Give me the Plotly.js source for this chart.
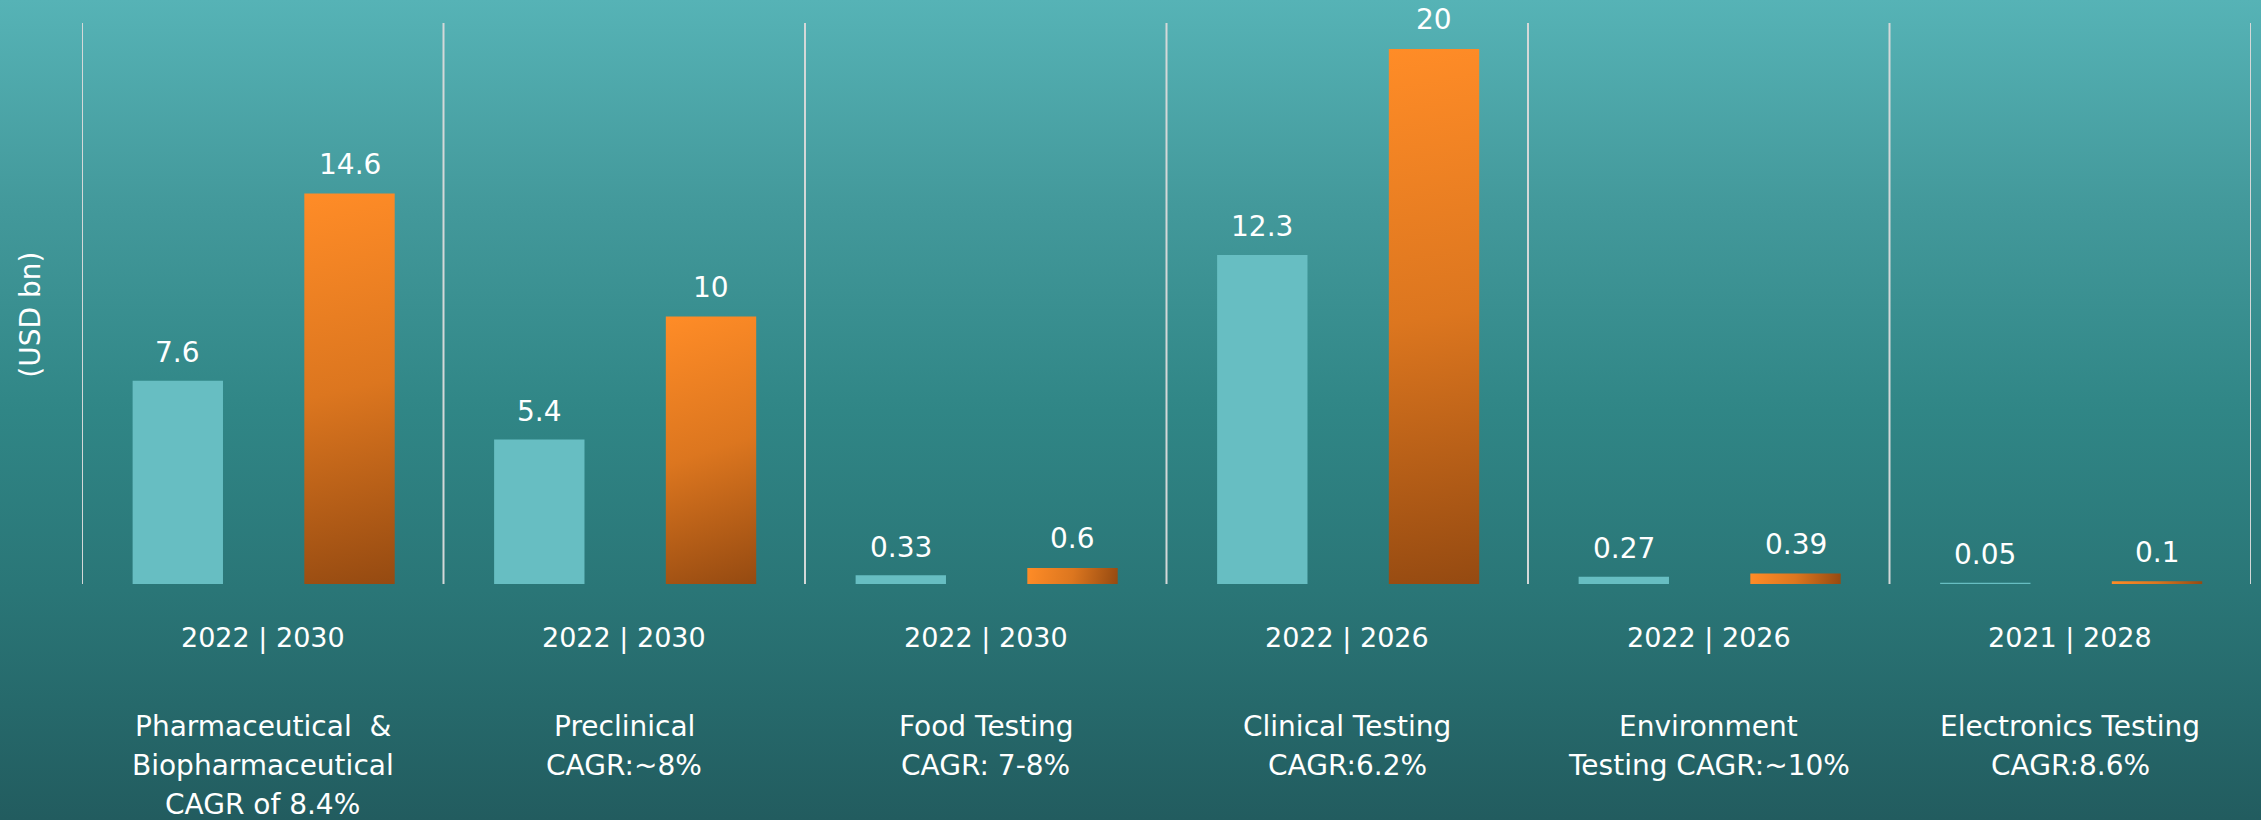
<!DOCTYPE html>
<html>
<head>
<meta charset="utf-8">
<script src="https://cdn.plot.ly/plotly-3.0.1.min.js"></script>
<style>
  html, body { margin: 0; padding: 0; }
  body {
    width: 2261px; height: 820px; overflow: hidden;
    background: linear-gradient(to bottom, #56b3b6 0%, #43999b 25%, #308686 50%, #2a7677 72%, #225c5f 100%);
  }
  #chart { width: 2261px; height: 820px; }
</style>
</head>
<body>
<div id="chart"></div>
<script>
// ---- data ----
const categories = ["Pharmaceutical & Biopharmaceutical", "Preclinical", "Food Testing", "Clinical Testing", "Environment Testing", "Electronics Testing"];
const baseValues = [7.6, 5.4, 0.33, 12.3, 0.27, 0.05];
const forecastValues = [14.6, 10, 0.6, 20, 0.39, 0.1];
const yearLabels = ["2022 | 2030", "2022 | 2030", "2022 | 2030", "2022 | 2026", "2022 | 2026", "2021 | 2028"];
const nameLines = [
  ["Pharmaceutical\u00a0 &", "Biopharmaceutical", "CAGR of 8.4%"],
  ["Preclinical", "CAGR:~8%"],
  ["Food Testing", "CAGR: 7-8%"],
  ["Clinical Testing", "CAGR:6.2%"],
  ["Environment", "Testing CAGR:~10%"],
  ["Electronics Testing", "CAGR:8.6%"]
];
const yTitle = "(USD bn)";

// ---- style ----
const FONT = "DejaVu Sans";
const barW = 0.25;
const off1 = -0.36, off2 = 0.115;

const traces = [
  {
    type: "bar", x: categories, y: baseValues,
    width: barW, offset: off1,
    marker: { color: "#67bec2", line: { width: 0 } },
    hoverinfo: "skip", showlegend: false
  },
  {
    type: "bar", x: categories, y: forecastValues,
    width: barW, offset: off2,
    marker: { color: "#e07820", line: { width: 0 } },
    hoverinfo: "skip", showlegend: false
  }
];

const annotations = [];
categories.forEach((c, i) => {
  annotations.push({
    xref: "x", yref: "y", x: i + off1 + barW / 2, y: baseValues[i],
    text: String(baseValues[i]), showarrow: false, yanchor: "middle", yshift: 28,
    font: { family: FONT, size: 28, color: "#ffffff" }
  });
  annotations.push({
    xref: "x", yref: "y", x: i + off2 + barW / 2, y: forecastValues[i],
    text: String(forecastValues[i]), showarrow: false, yanchor: "middle", yshift: 29,
    font: { family: FONT, size: 28, color: "#ffffff" }
  });
  annotations.push({
    xref: "x", yref: "paper", x: i, y: 0,
    text: yearLabels[i], showarrow: false, yanchor: "middle", yshift: -54,
    font: { family: FONT, size: 27, color: "#ffffff" }
  });
  nameLines[i].forEach((ln, k) => {
    annotations.push({
      xref: "x", yref: "paper", x: i, y: 0,
      text: ln, showarrow: false, yanchor: "middle", yshift: -142 - 39 * k,
      font: { family: FONT, size: 28, color: "#ffffff" }
    });
  });
});
annotations.push({
  xref: "paper", yref: "paper", x: 0, y: 0.48, xshift: -51,
  text: yTitle, textangle: -90, showarrow: false, xanchor: "center", yanchor: "middle",
  font: { family: FONT, size: 28, color: "#ffffff" }
});

const shapes = [];
for (let i = 0; i <= categories.length; i++) {
  shapes.push({
    type: "line", xref: "x", yref: "paper", x0: i - 0.5, x1: i - 0.5, y0: 0, y1: 1,
    line: { color: "#d4d8d8", width: 2 }
  });
}

const layout = {
  width: 2261, height: 820,
  margin: { l: 82, r: 10, t: 23, b: 236, pad: 0 },
  paper_bgcolor: "rgba(0,0,0,0)", plot_bgcolor: "rgba(0,0,0,0)",
  barmode: "overlay",
  showlegend: false,
  font: { family: FONT, color: "#ffffff" },
  xaxis: { type: "category", range: [-0.5, categories.length - 0.5], showticklabels: false, showgrid: false, zeroline: false, showline: false, ticks: "" },
  yaxis: { range: [0, 20.97], showticklabels: false, showgrid: false, zeroline: false, showline: false, ticks: "" },
  annotations: annotations,
  shapes: shapes
};

Plotly.newPlot("chart", traces, layout, { staticPlot: true }).then(gd => {
  const svg = gd.querySelector("svg.main-svg");
  const NS = "http://www.w3.org/2000/svg";
  let defs = svg.querySelector("defs");
  if (!defs) { defs = document.createElementNS(NS, "defs"); svg.insertBefore(defs, svg.firstChild); }
  const barTraces = gd.querySelectorAll(".barlayer .trace");
  if (!barTraces[1]) return;
  barTraces[1].querySelectorAll("path").forEach((p, idx) => {
    const bb = p.getBBox();
    if (!bb.width || !bb.height) return;
    const grad = document.createElementNS(NS, "linearGradient");
    const id = "orangeGrad" + idx;
    grad.setAttribute("id", id);
    grad.setAttribute("gradientUnits", "userSpaceOnUse");
    grad.setAttribute("x1", bb.x); grad.setAttribute("y1", bb.y);
    grad.setAttribute("x2", bb.x + bb.width); grad.setAttribute("y2", bb.y + bb.height);
    [["0", "#ff8c27"], ["0.5", "#dc761f"], ["1", "#954a11"]].forEach(([o, c]) => {
      const s = document.createElementNS(NS, "stop");
      s.setAttribute("offset", o); s.setAttribute("stop-color", c);
      grad.appendChild(s);
    });
    defs.appendChild(grad);
    p.style.fill = "url(#" + id + ")";
  });
});
</script>
</body>
</html>
